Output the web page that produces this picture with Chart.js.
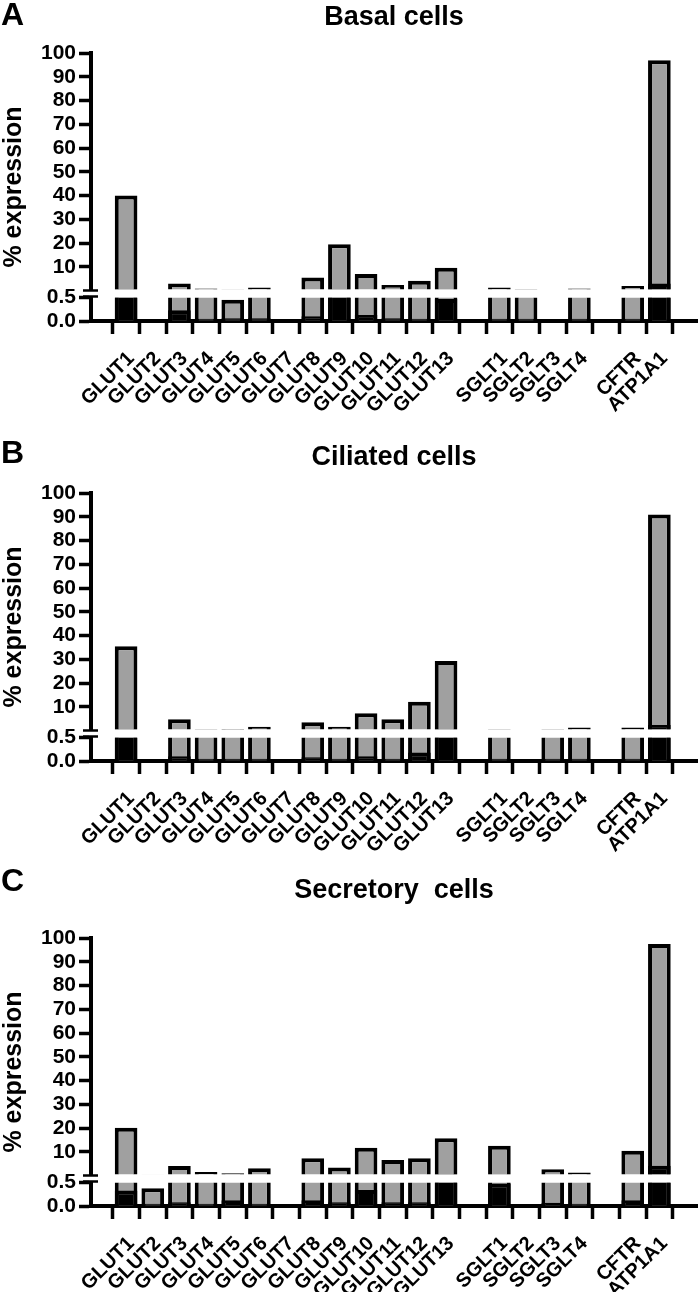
<!DOCTYPE html>
<html>
<head>
<meta charset="utf-8">
<script src="https://cdn.jsdelivr.net/npm/chart.js@4.4.1/dist/chart.umd.min.js"></script>
<style>
  html, body { margin: 0; padding: 0; background: #fff; }
  body { width: 700px; height: 1292px; overflow: hidden; position: relative; font-family: "Liberation Sans", Arial, sans-serif; }
  .panel { position: absolute; left: 0; width: 700px; }
  .panel canvas { display: block; }
  .letter { position: absolute; left: 1px; font-size: 32px; font-weight: bold; line-height: 32px; color: #000; }
</style>
</head>
<body>
<div class="panel" style="top:0px"><canvas id="chartA" width="700" height="440"></canvas></div>
<div class="panel" style="top:440px"><canvas id="chartB" width="700" height="440"></canvas></div>
<div class="panel" style="top:873px"><canvas id="chartC" width="700" height="452"></canvas></div>
<div class="letter" style="top:-2px">A</div>
<div class="letter" style="top:436px">B</div>
<div class="letter" style="top:864px">C</div>
<script>
// Catégories (les libellés vides sont les espaces entre groupes)
const categories = ['GLUT1', 'GLUT2', 'GLUT3', 'GLUT4', 'GLUT5', 'GLUT6', 'GLUT7', 'GLUT8', 'GLUT9',
    'GLUT10', 'GLUT11', 'GLUT12', 'GLUT13', '', 'SGLT1', 'SGLT2', 'SGLT3', 'SGLT4', '', 'CFTR', 'ATP1A1'];
const upperTicks = [10, 20, 30, 40, 50, 60, 70, 80, 90, 100];
const lowerTicks = [0, 0.5];

// Basal cells
const basalMax = [40, 0, 3, 0.9, 0.45, 1.3, 0, 5.6, 19.5, 7, 2.4, 4.2, 9.7, null, 1.3, 0.6, 0, 0.9, null, 2, 97];
const basalMin = [0.6, 0, 0.23, 0.05, 0.06, 0.06, 0, 0.1, 0.6, 0.13, 0.06, 0.05, 0.47, null, 0.05, 0.05, 0, 0.05, null, 0.05, 3];

// Ciliated cells
const ciliatedMax = [35.5, 0, 4.8, 0.6, 0.7, 1.7, 0, 3.5, 1.7, 7.3, 4.8, 12.2, 29.3, null, 0.6, 0, 0.6, 1.3, null, 1.3, 91];
const ciliatedMin = [0.6, 0, 0.1, 0.05, 0.05, 0.05, 0, 0.08, 0.05, 0.1, 0.05, 0.18, 0.6, null, 0.05, 0, 0.05, 0.05, null, 0.05, 2.4];

// Secretory cells
const secretoryMax = [20.2, 0.38, 4.1, 1.5, 1.0, 3.1, 0, 7.3, 3.4, 11.8, 6.6, 7.3, 15.7, null, 12.6, 0, 2.7, 1.3, null, 10.5, 97.5];
const secretoryMin = [0.33, 0.05, 0.08, 0.05, 0.12, 0.05, 0, 0.12, 0.08, 0.34, 0.08, 0.08, 0.6, null, 0.48, 0, 0.07, 0.05, null, 0.12, 4.2];

const FONT = '"Liberation Sans", Arial, sans-serif';
const GRAY = '#a0a0a0';
Chart.defaults.font.family = FONT;
Chart.defaults.color = '#000';

// Coupe chaque jeu de données à la hauteur de son propre axe (axe brisé)
const clipToScale = {
    id: 'clipToScale',
    beforeDatasetDraw(chart, args) {
        const y = args.meta.yScale;
        const ctx = chart.ctx;
        ctx.save();
        ctx.beginPath();
        ctx.rect(chart.chartArea.left, y.top, chart.chartArea.width, y.bottom - y.top);
        ctx.clip();
    },
    afterDatasetDraw(chart) {
        chart.ctx.restore();
    }
};

// Titre de l'axe Y et marques de coupure
const axisExtras = {
    id: 'axisExtras',
    afterDraw(chart) {
        const { ctx, scales, chartArea } = chart;
        const mid = (scales.yHigh.top + scales.yLow.bottom) / 2;
        ctx.save();
        ctx.translate(14, mid);
        ctx.rotate(-Math.PI / 2);
        ctx.font = 'bold 25px ' + FONT;
        ctx.textAlign = 'center';
        ctx.textBaseline = 'middle';
        ctx.fillStyle = '#000';
        ctx.fillText('% expression', 0, 0);
        ctx.restore();

        const x = chartArea.left;
        ctx.save();
        ctx.strokeStyle = '#000';
        ctx.lineWidth = 2.5;
        [scales.yHigh.bottom + 1, scales.yLow.top - 1].forEach(y => {
            ctx.beginPath();
            ctx.moveTo(x - 8, y);
            ctx.lineTo(x + 7, y);
            ctx.stroke();
        });
        ctx.restore();
    }
};

function yAxis(weight, min, max, ticks, fmt) {
    return {
        type: 'linear',
        position: 'left',
        stack: 'y',
        stackWeight: weight,
        min: min,
        max: max,
        afterBuildTicks: s => { s.ticks = ticks.map(v => ({ value: v })); },
        afterFit: s => { s.width = 91; },
        grid: { drawOnChartArea: false, tickLength: 12, tickWidth: 3.5, tickColor: '#000' },
        border: { color: '#000', width: 4 },
        ticks: { autoSkip: false, padding: 3, color: '#000', font: { size: 21, weight: 'bold' }, callback: fmt }
    };
}

function makePanel(canvasId, title, maxVals, minVals, titleGap) {
    const pts = arr => arr.map((v, i) => ({ x: i, y: v }));
    const bar = (label, data, color, axis) => ({
        label: label,
        data: pts(data),
        yAxisID: axis,
        backgroundColor: color,
        borderColor: '#000',
        borderWidth: 4,
        borderSkipped: 'start',
        grouped: false,
        categoryPercentage: 0.85,
        barPercentage: 1
    });

    return new Chart(document.getElementById(canvasId), {
        type: 'bar',
        data: {
            datasets: [
                bar('min', minVals, '#000', 'yHigh'),
                bar('max', maxVals, GRAY, 'yHigh'),
                bar('min', minVals, '#000', 'yLow'),
                bar('max', maxVals, GRAY, 'yLow')
            ]
        },
        options: {
            responsive: false,
            animation: false,
            layout: { padding: { left: 0, right: 3, top: 0, bottom: 0 } },
            plugins: {
                legend: { display: false },
                tooltip: { enabled: false },
                title: {
                    display: true,
                    text: title,
                    fullSize: false,
                    color: '#000',
                    font: { size: 27, weight: 'bold' },
                    padding: { top: 1, bottom: titleGap }
                }
            },
            scales: {
                x: {
                    type: 'linear',
                    position: 'bottom',
                    min: -0.775,
                    max: 20.87,
                    afterBuildTicks: s => { s.ticks = categories.map((c, i) => ({ value: i })); },
                    afterFit: s => { s.height = 119; },
                    grid: { drawOnChartArea: false, tickLength: 13, tickWidth: 3.5, tickColor: '#000' },
                    border: { color: '#000', width: 4 },
                    ticks: {
                        autoSkip: false,
                        minRotation: 45,
                        maxRotation: 45,
                        padding: 13,
                        labelOffset: 5,
                        color: '#000',
                        font: { size: 20, weight: 'bold' },
                        callback: v => categories[v] ?? ''
                    }
                },
                yLow: yAxis(23.5, 0, 0.5, lowerTicks, v => v.toFixed(1)),
                yGap: {
                    type: 'linear',
                    position: 'left',
                    stack: 'y',
                    stackWeight: 8,
                    min: 0,
                    max: 1,
                    afterFit: s => { s.width = 91; },
                    grid: { display: false },
                    border: { display: false },
                    ticks: { display: false }
                },
                yHigh: yAxis(236.5, 0.5, 100, upperTicks, v => String(v))
            }
        },
        plugins: [clipToScale, axisExtras]
    });
}

makePanel('chartA', 'Basal cells', basalMax, basalMin, 19.6);
makePanel('chartB', 'Ciliated cells', ciliatedMax, ciliatedMin, 19.6);
makePanel('chartC', 'Secretory  cells', secretoryMax, secretoryMin, 31.6);
</script>
</body>
</html>
